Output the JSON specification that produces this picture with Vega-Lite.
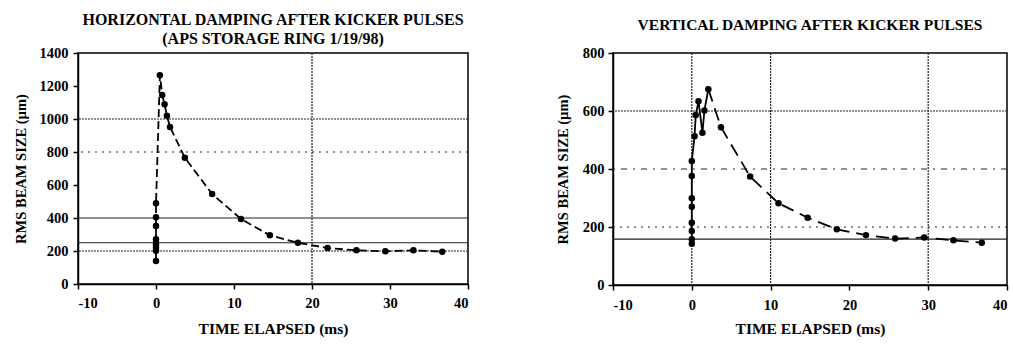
{
  "$schema": "https://vega.github.io/schema/vega-lite/v6.json",
  "background": "white",
  "padding": {"left": 12, "top": 11, "right": 5, "bottom": 5},
  "spacing": 84,
  "datasets": {
    "h": [
      {"i": 1, "t": 0, "s": 139}, {"i": 2, "t": 0, "s": 202}, {"i": 3, "t": 0, "s": 220},
      {"i": 4, "t": 0, "s": 236}, {"i": 5, "t": 0, "s": 250}, {"i": 6, "t": 0, "s": 271},
      {"i": 7, "t": 0, "s": 351}, {"i": 8, "t": 0, "s": 404}, {"i": 9, "t": 0, "s": 489},
      {"i": 10, "t": 0.5, "s": 1265}, {"i": 11, "t": 0.8, "s": 1145}, {"i": 12, "t": 1.1, "s": 1089},
      {"i": 13, "t": 1.4, "s": 1020}, {"i": 14, "t": 1.8, "s": 951}, {"i": 15, "t": 3.7, "s": 765},
      {"i": 16, "t": 7.2, "s": 545}, {"i": 17, "t": 10.9, "s": 394}, {"i": 18, "t": 14.6, "s": 295},
      {"i": 19, "t": 18.2, "s": 250}, {"i": 20, "t": 22, "s": 218}, {"i": 21, "t": 25.7, "s": 204},
      {"i": 22, "t": 29.4, "s": 198}, {"i": 23, "t": 33, "s": 204}, {"i": 24, "t": 36.7, "s": 196}
    ],
    "v": [
      {"i": 1, "t": 0, "s": 142}, {"i": 2, "t": 0, "s": 158}, {"i": 3, "t": 0, "s": 186},
      {"i": 4, "t": 0, "s": 215}, {"i": 5, "t": 0, "s": 270}, {"i": 6, "t": 0, "s": 299},
      {"i": 7, "t": 0, "s": 376}, {"i": 8, "t": 0, "s": 428}, {"i": 9, "t": 0.35, "s": 513},
      {"i": 10, "t": 0.5, "s": 586}, {"i": 11, "t": 0.85, "s": 634}, {"i": 12, "t": 1.35, "s": 525},
      {"i": 13, "t": 1.6, "s": 602}, {"i": 14, "t": 2.1, "s": 675}, {"i": 15, "t": 3.7, "s": 544},
      {"i": 16, "t": 7.4, "s": 374}, {"i": 17, "t": 11, "s": 282}, {"i": 18, "t": 14.7, "s": 232},
      {"i": 19, "t": 18.4, "s": 192}, {"i": 20, "t": 22.1, "s": 172}, {"i": 21, "t": 25.8, "s": 160},
      {"i": 22, "t": 29.5, "s": 164}, {"i": 23, "t": 33.2, "s": 154}, {"i": 24, "t": 36.8, "s": 146}
    ],
    "hy": [
      {"y": 1000, "style": "dense"}, {"y": 800, "style": "sparse"}, {"y": 400, "style": "solid"},
      {"y": 250, "style": "solid"}, {"y": 200, "style": "dense"}
    ],
    "hx": [{"x": 20, "style": "dense"}],
    "vy": [
      {"y": 600, "style": "dense"}, {"y": 400, "style": "dashdot"}, {"y": 200, "style": "sparse"},
      {"y": 158, "style": "solid"}
    ],
    "vx": [{"x": 0, "style": "dense"}, {"x": 10, "style": "dense"}, {"x": 30, "style": "dense"}]
  },
  "config": {
    "font": "Liberation Serif",
    "view": {"stroke": "black", "strokeWidth": 1.5},
    "axis": {
      "grid": false,
      "domainColor": "black", "domainWidth": 1.5,
      "tickColor": "black", "tickSize": 5, "tickWidth": 1.5,
      "labelFont": "Liberation Serif", "labelFontWeight": "bold", "labelFontSize": 14.5, "labelColor": "black",
      "labelOverlap": false, "labelExpr": "'' + datum.value",
      "titleFont": "Liberation Serif", "titleFontWeight": "bold", "titleColor": "black"
    },
    "axisX": {"titleFontSize": 15.5},
    "axisY": {"titleFontSize": 14.5},
    "title": {"font": "Liberation Serif", "fontWeight": "bold", "fontSize": 16, "color": "black", "anchor": "middle", "offset": -2}
  },
  "hconcat": [
    {
      "width": 390, "height": 231,
      "title": {"text": ["HORIZONTAL DAMPING AFTER KICKER PULSES", "(APS STORAGE RING 1/19/98)"], "lineHeight": 19},
      "layer": [
        {
          "data": {"name": "hy"},
          "mark": {"type": "rule", "color": "#222", "strokeWidth": 1.2},
          "encoding": {
            "y": {"field": "y", "type": "quantitative", "title": "RMS BEAM SIZE (µm)",
              "scale": {"domain": [0, 1400], "nice": false},
              "axis": {"values": [0, 200, 400, 600, 800, 1000, 1200, 1400], "tickCount": 8, "labelPadding": 5, "titlePadding": 11, "labelOverlap": false}},
            "strokeDash": {"field": "style", "type": "nominal", "legend": null,
              "scale": {"domain": ["solid", "dense", "sparse", "dashdot"], "range": [[1, 0], [2, 1], [2, 5], [6, 6, 2, 6]]}}
          }
        },
        {
          "data": {"name": "hx"},
          "mark": {"type": "rule", "color": "#222", "strokeWidth": 1.2},
          "encoding": {
            "x": {"field": "x", "type": "quantitative", "title": "TIME ELAPSED (ms)",
              "scale": {"domain": [-10, 40], "nice": false},
              "axis": {"values": [-10, 0, 10, 20, 30, 40], "labelPadding": 7, "titlePadding": 12, "labelOverlap": false}},
            "strokeDash": {"field": "style", "type": "nominal", "legend": null,
              "scale": {"domain": ["solid", "dense", "sparse", "dashdot"], "range": [[1, 0], [2, 2], [2, 5], [6, 6, 2, 6]]}}
          }
        },
        {
          "data": {"name": "h"},
          "mark": {"type": "line", "color": "black", "strokeWidth": 1.8, "strokeDash": [8, 4]},
          "encoding": {
            "x": {"field": "t", "type": "quantitative",
              "axis": {"values": [-10, 0, 10, 20, 30, 40], "labelPadding": 7, "titlePadding": 12, "labelOverlap": false}},
            "y": {"field": "s", "type": "quantitative",
              "axis": {"values": [0, 200, 400, 600, 800, 1000, 1200, 1400], "tickCount": 8, "labelPadding": 5, "titlePadding": 11, "labelOverlap": false}},
            "order": {"field": "i", "type": "quantitative"}
          }
        },
        {
          "data": {"name": "h"},
          "mark": {"type": "point", "filled": true, "color": "black", "size": 42, "opacity": 1},
          "encoding": {
            "x": {"field": "t", "type": "quantitative",
              "axis": {"values": [-10, 0, 10, 20, 30, 40], "labelPadding": 7, "titlePadding": 12, "labelOverlap": false}},
            "y": {"field": "s", "type": "quantitative",
              "axis": {"values": [0, 200, 400, 600, 800, 1000, 1200, 1400], "tickCount": 8, "labelPadding": 5, "titlePadding": 11, "labelOverlap": false}}
          }
        }
      ]
    },
    {
      "width": 394, "height": 232,
      "title": {"text": "VERTICAL DAMPING AFTER KICKER PULSES", "fontSize": 15.5, "dy": -14},
      "layer": [
        {
          "data": {"name": "vy"},
          "mark": {"type": "rule", "color": "#222", "strokeWidth": 1.2},
          "encoding": {
            "y": {"field": "y", "type": "quantitative", "title": "RMS BEAM SIZE (µm)",
              "scale": {"domain": [0, 800], "nice": false},
              "axis": {"values": [0, 200, 400, 600, 800], "labelPadding": 4, "titlePadding": 12, "labelOverlap": false}},
            "strokeDash": {"field": "style", "type": "nominal", "legend": null,
              "scale": {"domain": ["solid", "dense", "sparse", "dashdot"], "range": [[1, 0], [2, 1], [3, 3], [6, 8, 2, 8]]}}
          }
        },
        {
          "data": {"name": "vx"},
          "mark": {"type": "rule", "color": "#222", "strokeWidth": 1.2},
          "encoding": {
            "x": {"field": "x", "type": "quantitative", "title": "TIME ELAPSED (ms)",
              "scale": {"domain": [-10, 40], "nice": false},
              "axis": {"values": [-10, 0, 10, 20, 30, 40], "labelPadding": 8, "titlePadding": 10, "labelOverlap": false}},
            "strokeDash": {"field": "style", "type": "nominal", "legend": null,
              "scale": {"domain": ["solid", "dense", "sparse", "dashdot"], "range": [[1, 0], [2, 1], [3, 3], [6, 8, 2, 8]]}}
          }
        },
        {
          "data": {"name": "v"},
          "transform": [{"filter": "datum.i <= 14"}],
          "mark": {"type": "line", "color": "black", "strokeWidth": 1.8},
          "encoding": {
            "x": {"field": "t", "type": "quantitative"},
            "y": {"field": "s", "type": "quantitative"},
            "order": {"field": "i", "type": "quantitative"}
          }
        },
        {
          "data": {"name": "v"},
          "transform": [{"filter": "datum.i >= 14"}],
          "mark": {"type": "line", "color": "black", "strokeWidth": 1.8, "strokeDash": [13, 7]},
          "encoding": {
            "x": {"field": "t", "type": "quantitative"},
            "y": {"field": "s", "type": "quantitative"},
            "order": {"field": "i", "type": "quantitative"}
          }
        },
        {
          "data": {"name": "v"},
          "mark": {"type": "point", "filled": true, "color": "black", "size": 42, "opacity": 1},
          "encoding": {
            "x": {"field": "t", "type": "quantitative"},
            "y": {"field": "s", "type": "quantitative"}
          }
        }
      ]
    }
  ]
}
